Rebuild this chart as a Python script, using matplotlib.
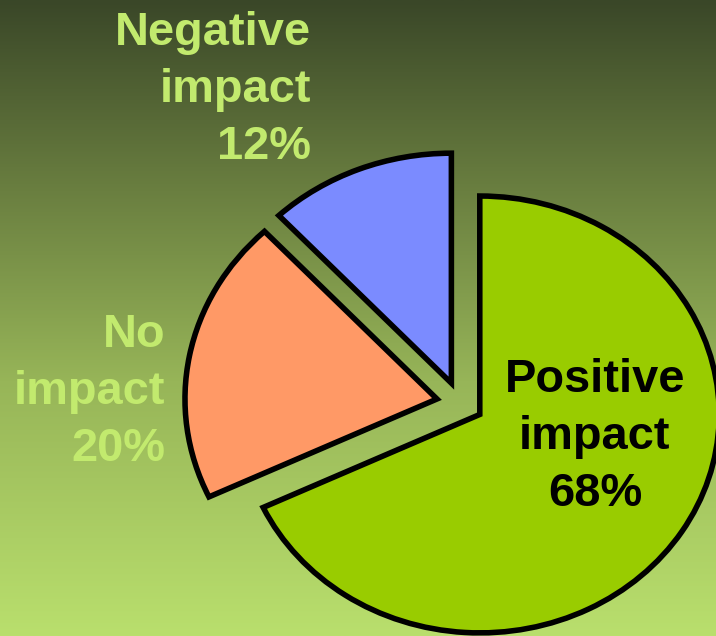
import matplotlib
matplotlib.use("Agg")
import matplotlib.pyplot as plt
import numpy as np
from matplotlib.colors import LinearSegmentedColormap

# ---- data ----
categories = ["Positive impact", "No impact", "Negative impact"]
values = [68, 20, 12]
colors = ["#99cc00", "#ff9966", "#7b8bff"]
text_colors = ["black", "#c2ea6e", "#c2ea6e"]

W, H = 716, 636
fig = plt.figure(figsize=(W / 100, H / 100), dpi=100)

# background gradient
bg = fig.add_axes([0, 0, 1, 1])
bg.axis("off")
cmap = LinearSegmentedColormap.from_list(
    "bg", [(0.0, "#3a4728"), (0.3, "#6a7f40"), (0.6, "#97b558"), (1.0, "#b9df6d")])
grad = np.linspace(0, 1, 256).reshape(-1, 1)
bg.imshow(grad, cmap=cmap, aspect="auto", extent=[0, 1, 0, 1], origin="upper")

# pie (slightly elliptical like the reference)
ax = fig.add_axes([0, 0, 1, 1], facecolor="none")
k = 1.096
r = 252
cx, cy = 460, (H - 403) * k
wedges, _ = ax.pie(values, radius=r, center=(cx, cy), startangle=90,
                   counterclock=False, explode=[0.093 * r] * len(values),
                   colors=colors, frame=True,
                   wedgeprops=dict(edgecolor="black", linewidth=4.0,
                                   joinstyle="miter"))
wedges[0].set_radius(r * 0.95)
ax.set_xlim(0, W)
ax.set_ylim(0, H * k)
ax.set_aspect("auto")
ax.axis("off")

# labels: (anchor x px, first baseline y px, ha)
label_pos = [(595, 392, "center"), (165, 347, "right"), (311, 45, "right")]
pitch = 57
for cat, v, tc, (x, y0, ha) in zip(categories, values, text_colors, label_pos):
    lines = cat.split() + [f"{v}%"]
    for i, line in enumerate(lines):
        fig.text(x / W, 1 - (y0 + i * pitch) / H, line, ha=ha, va="baseline",
                 color=tc, fontsize=33.8, fontweight="bold",
                 family=["Liberation Sans", "DejaVu Sans"])

fig.savefig("out.png", dpi=100)
